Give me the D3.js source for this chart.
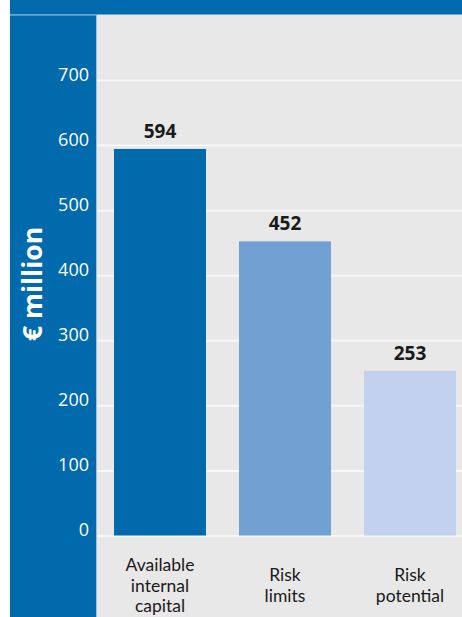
<!DOCTYPE html>
<html>
<head>
<meta charset="utf-8">
<script src="https://cdn.jsdelivr.net/npm/d3@7"></script>
<style>
  body { margin: 0; background: #fff; }
  svg text { font-family: "Open Sans", sans-serif; }
</style>
</head>
<body>
<div id="chart"></div>
<script>
// data
var categories = ["Available\ninternal\ncapital", "Risk\nlimits", "Risk\npotential"];
var values = [594, 452, 253];
var barColors = ["#006aad", "#71a1d2", "#c1d1ee"];
var tickValues = [0, 100, 200, 300, 400, 500, 600, 700];
var axisTitle = "€ million";

var width = 462, height = 617;
var panelLeft = 10, plotLeft = 97, topBand = 14.5;
var blue = "#006aad";

var svg = d3.select("#chart").append("svg")
    .attr("width", width)
    .attr("height", height);

// background pieces
svg.append("rect")
    .attr("x", plotLeft).attr("y", 0)
    .attr("width", width - plotLeft).attr("height", height)
    .attr("fill", "#e8e8e8");

svg.append("rect")
    .attr("x", panelLeft).attr("y", 0)
    .attr("width", width - panelLeft).attr("height", topBand)
    .attr("fill", blue);

svg.append("rect")
    .attr("x", panelLeft).attr("y", topBand)
    .attr("width", plotLeft - panelLeft).attr("height", height - topBand)
    .attr("fill", blue);

// thin light edges of the left panel
svg.append("path")
    .attr("d", "M" + panelLeft + "," + (topBand + 0.5) + "H" + (plotLeft - 0.5) + "V" + height)
    .attr("fill", "none")
    .attr("stroke", "#9dbfe0")
    .attr("stroke-width", 1);

var x = d3.scaleBand()
    .domain(categories)
    .range([97, 473])
    .paddingInner(0.264)
    .paddingOuter(0.136);

var y = d3.scaleLinear()
    .domain([0, 700])
    .range([535.5, 80]);

// axis + gridlines
var axis = svg.append("g")
    .attr("transform", "translate(" + plotLeft + ",0)")
    .call(d3.axisLeft(y).tickValues(tickValues).tickSize(-(width - plotLeft)).tickPadding(8));

axis.select(".domain").remove();
axis.selectAll(".tick line")
    .attr("stroke", "#f7f7f7")
    .attr("stroke-width", 2);
axis.selectAll(".tick text")
    .attr("fill", "#fff")
    .attr("dy", "0")
    .style("font-size", "18px");

// bars
svg.selectAll(".bar")
    .data(values)
    .enter().append("rect")
    .attr("class", "bar")
    .attr("x", function(d, i) { return x(categories[i]); })
    .attr("y", function(d) { return y(d); })
    .attr("width", x.bandwidth())
    .attr("height", function(d) { return y(0) - y(d); })
    .attr("fill", function(d, i) { return barColors[i]; });

// value labels
svg.selectAll(".val")
    .data(values)
    .enter().append("text")
    .attr("class", "val")
    .attr("x", function(d, i) { return x(categories[i]) + x.bandwidth() / 2; })
    .attr("y", function(d) { return y(d) - 11; })
    .attr("text-anchor", "middle")
    .attr("fill", "#1a1a1a")
    .style("font-size", "19px")
    .style("font-weight", "bold")
    .text(function(d) { return d; });

// category labels, one text per line
var lineH = 20.7, labelMid = 591.5;
categories.forEach(function(c) {
    var lines = c.split("\n");
    var cx = x(c) + x.bandwidth() / 2;
    var y0 = labelMid - (lines.length - 1) * lineH / 2;
    svg.selectAll(null)
        .data(lines)
        .enter().append("text")
        .attr("class", "cat")
        .attr("x", cx)
        .attr("y", function(l, j) { return y0 + j * lineH; })
        .attr("text-anchor", "middle")
        .attr("fill", "#1a1a1a")
        .style("font-family", "Lato, sans-serif")
        .style("font-size", "17.5px")
        .text(function(l) { return l; });
});

// axis title
svg.append("text")
    .attr("transform", "translate(42,284) rotate(-90)")
    .attr("text-anchor", "middle")
    .attr("fill", "#fff")
    .style("font-size", "26.5px")
    .style("font-weight", "bold")
    .text(axisTitle);
</script>
</body>
</html>
